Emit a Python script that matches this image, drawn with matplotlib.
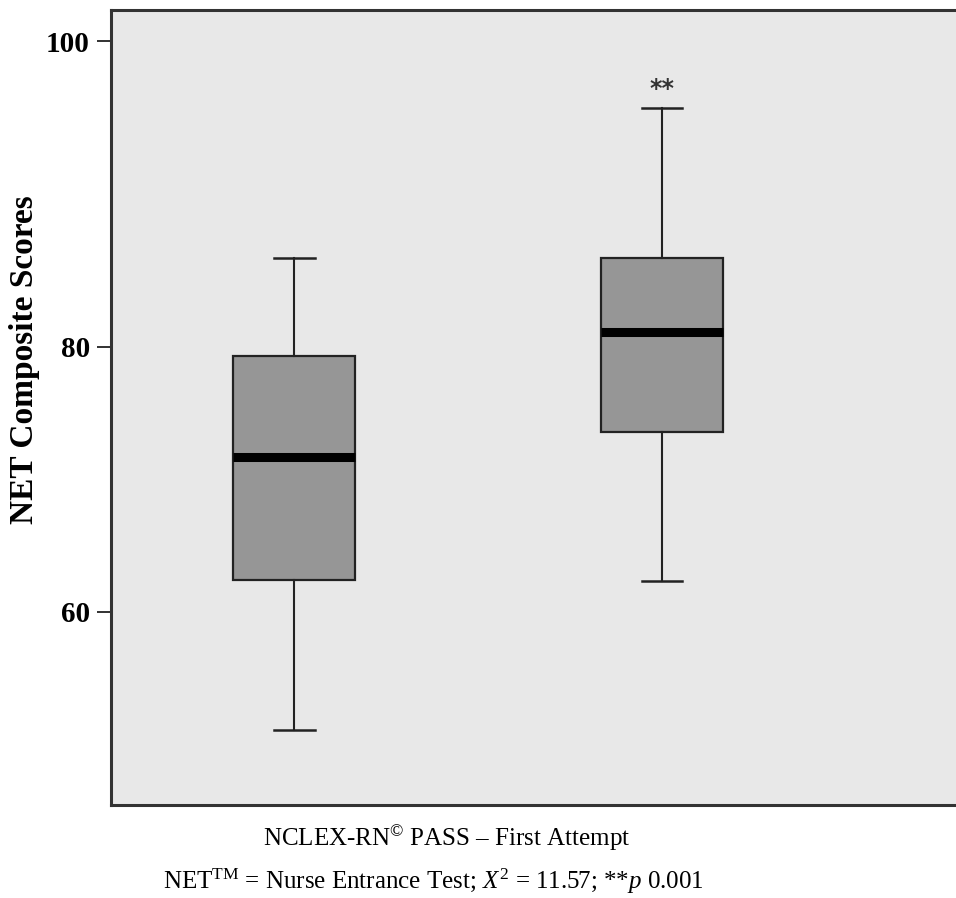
import numpy as np
import matplotlib
matplotlib.use("Agg")
import matplotlib.pyplot as plt

# box summary values
groups = ["FAIL", "PASS"]
whis_low = [51.1, 62.3]
q1 = [62.4, 73.6]
median = [71.7, 81.0]
q3 = [79.3, 85.8]
whis_high = [85.8, 95.6]
yticks = [60, 80, 100]

plt.rcParams['font.family'] = ['Liberation Serif', 'DejaVu Serif']
plt.rcParams['mathtext.fontset'] = 'custom'
plt.rcParams['mathtext.rm'] = 'Liberation Serif'
plt.rcParams['mathtext.it'] = 'Liberation Serif:italic'


# the printed axis is not evenly spaced: 80-100 is stretched more than 60-80
def forward(v):
    v = np.asarray(v, dtype=float)
    return np.where(v < 80, (v - 80) * 13.25, (v - 80) * 15.3)


def inverse(u):
    u = np.asarray(u, dtype=float)
    return np.where(u < 0, u / 13.25 + 80, u / 15.3 + 80)


fig = plt.figure(figsize=(9.56, 8.98), dpi=100)
ax = fig.add_axes([0.1158, 0.1036, 0.8862, 0.8853])
ax.set_facecolor('#e8e8e8')

stats = []
for i in range(len(groups)):
    stats.append({'label': groups[i], 'whislo': whis_low[i], 'q1': q1[i],
                  'med': median[i], 'q3': q3[i], 'whishi': whis_high[i]})

ax.bxp(stats, positions=[1, 2], widths=0.332, capwidths=0.11,
       showfliers=False, patch_artist=True,
       boxprops=dict(facecolor='#969696', edgecolor='#222222', linewidth=1.6),
       medianprops=dict(color='black', linewidth=6.5, solid_capstyle='butt'),
       whiskerprops=dict(color='#222222', linewidth=1.5),
       capprops=dict(color='#222222', linewidth=1.8))

ax.set_yscale('function', functions=(forward, inverse))
ax.set_ylim(45.43, 102.03)
ax.set_xlim(0.5, 2.806)

ax.annotate('**', xy=(2, whis_high[1]), xytext=(0, 5), textcoords='offset points',
            ha='center', va='bottom', fontsize=17, fontweight='bold',
            family=['DejaVu Sans'], color='#333333')

ax.set_yticks(yticks)
ax.set_yticklabels([str(t) for t in yticks], fontsize=21, fontweight='bold')
ax.yaxis.set_minor_locator(matplotlib.ticker.NullLocator())
ax.tick_params(axis='y', length=10, width=1.3, pad=5, color='#222222')
ax.set_xticks([])

for s in ax.spines.values():
    s.set_linewidth(2.2)
    s.set_color('#333333')

ax.set_ylabel('NET Composite Scores', fontsize=24, fontweight='bold')
ax.yaxis.set_label_coords(-0.084, 0.56)

fig.text(447 / 956, 1 - 838 / 898, r'NCLEX-RN$^{\mathrm{©}}$ PASS – First Attempt',
         ha='center', va='center', fontsize=18)
fig.text(433 / 956, 1 - 881 / 898,
         r'NET$^{\mathrm{TM}}$ = Nurse Entrance Test; $X^2$ = 11.57; **$p$ 0.001',
         ha='center', va='center', fontsize=18)

fig.savefig('out.png', dpi=100)
